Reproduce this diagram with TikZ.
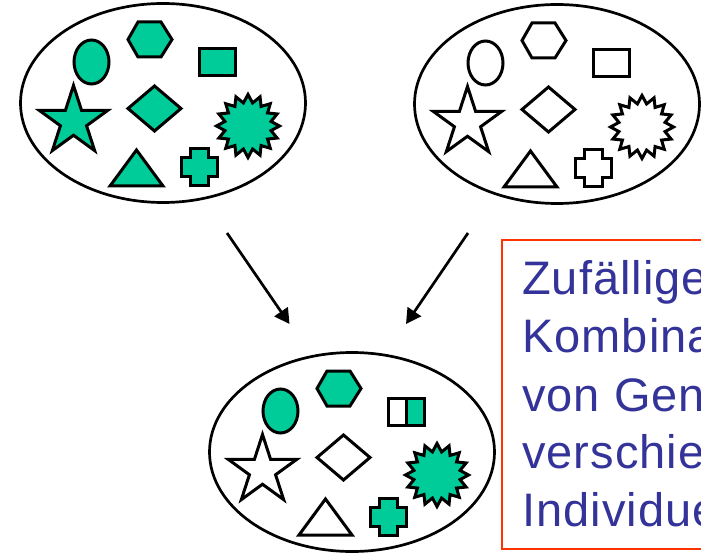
\documentclass[tikz,border=0pt]{standalone}
\usepackage{fontspec}
\setmainfont{Liberation Sans}
\usetikzlibrary{shapes.geometric,arrows.meta}
\definecolor{gr}{HTML}{00CC99}
\definecolor{tb}{HTML}{333399}
\definecolor{bx}{HTML}{FF3300}
\newcommand{\shapeset}[2]{%
  \begin{scope}[shift={#1}]
    % oval
    \draw[shp, fill=cOval] (91.5,62) ellipse [x radius=17.5, y radius=22];
    % hexagon
    \draw[shp, fill=cHex] (128,39.5) -- (138,22) -- (161,22) -- (172,39.5) -- (161,57) -- (138,57) -- cycle;
    % rectangle (whole or two halves)
    \ifnum#2=1
      \draw[shp, fill=cRectL] (199,49) rectangle (217,76);
      \draw[shp, fill=cRectR] (217,49) rectangle (235,76);
    \else
      \draw[shp, fill=cRectL] (199,49) rectangle (235,76);
    \fi
    % star
    \node[shp, star, star points=5, star point ratio=2.618, minimum size=72pt, inner sep=0pt, fill=cStar] at (73.5,121.5) {};
    % diamond
    \draw[shp, fill=cDia] (128,108.5) -- (154.5,86) -- (181,108.5) -- (154.5,131) -- cycle;
    % seal
    \node[shp, star, star points=16, star point ratio=1.34, minimum size=63pt, inner sep=0pt, fill=cSeal] at (248,126) {};
    % triangle
    \draw[shp, fill=cTri] (110,186) -- (136.5,150) -- (163,186) -- cycle;
    % cross
    \draw[shp, fill=cCross] (190,149) -- (208,149) -- (208,158) -- (217,158) -- (217,177) -- (208,177) -- (208,186) -- (190,186) -- (190,177) -- (181,177) -- (181,158) -- (190,158) -- cycle;
  \end{scope}}
\newcommand{\setfills}[9]{%
  \colorlet{cOval}{#1}\colorlet{cHex}{#2}\colorlet{cRectL}{#3}\colorlet{cRectR}{#4}%
  \colorlet{cStar}{#5}\colorlet{cDia}{#6}\colorlet{cSeal}{#7}\colorlet{cTri}{#8}\colorlet{cCross}{#9}}
\begin{document}
\begin{tikzpicture}[x=1pt,y=-1pt,
  shp/.style={draw=black, line width=3pt, miter limit=10},
  bigell/.style={ellipse, draw=black, line width=2.7pt, minimum width=285pt, minimum height=199pt, inner sep=0pt},
  arr/.style={line width=2.7pt, -{Triangle[length=15pt,width=16pt]}},
  txt/.style={anchor=base west, inner sep=0pt, text=tb, font=\fontsize{47}{57}\selectfont\addfontfeatures{LetterSpace=2.2}},
  box/.style={draw=bx, line width=2.2pt, fill=white, anchor=north west, minimum width=240pt, minimum height=309pt, inner sep=0pt}]
\useasboundingbox (0,0) rectangle (701,553);
\clip (0,0) rectangle (701,553);
\fill[white] (0,0) rectangle (701,553);
% ellipses
\node[bigell] (E1) at (163,103) {};
\node[bigell] (E2) at (557,104) {};
\node[bigell] (E3) at (352,452) {};
% shape sets
\setfills{gr}{gr}{gr}{gr}{gr}{gr}{gr}{gr}{gr}
\shapeset{(0,0)}{0}
\setfills{white}{white}{white}{white}{white}{white}{white}{white}{white}
\shapeset{(394,1)}{0}
\setfills{gr}{gr}{white}{gr}{white}{white}{gr}{white}{gr}
\shapeset{(189,349)}{1}
% arrows
\coordinate (a1s) at (227,233);
\coordinate (a1e) at (289.5,324);
\coordinate (a2s) at (468,233);
\coordinate (a2e) at (406,324);
\draw[arr] (a1s) -- (a1e);
\draw[arr] (a2s) -- (a2e);
% text box
\node[box] (B) at (501,239) {};
\node[txt] (t1) at (522,294.5) {Zufällige};
\node[txt] (t2) at (522,352.5) {Kombina};
\node[txt] (t3) at (522,411) {von Gen};
\node[txt] (t4) at (522,468.5) {verschied};
\node[txt] (t5) at (522,526) {Individue};
\end{tikzpicture}
\end{document}
